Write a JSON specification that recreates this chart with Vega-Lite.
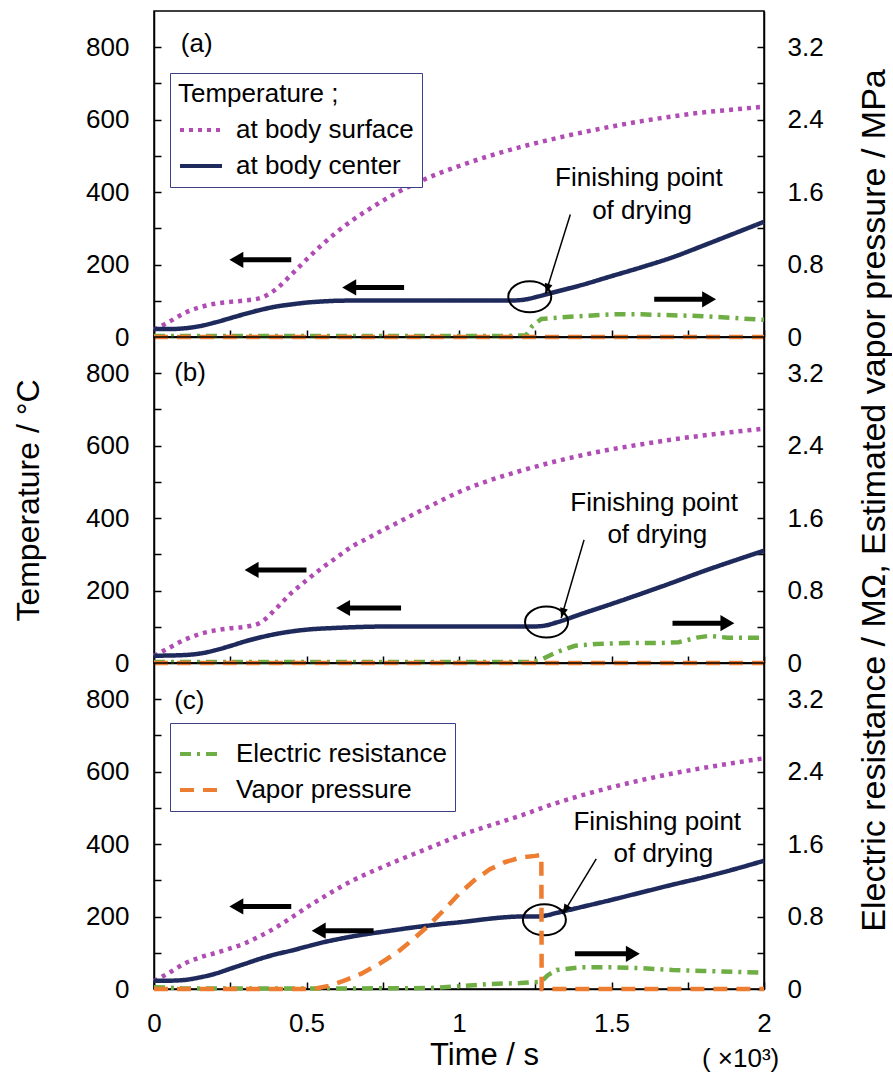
{
  "$schema": "https://vega.github.io/schema/vega-lite/v6.json",
  "padding": {"left": 11, "top": 10, "right": 0, "bottom": 0},
  "config": {
    "font": "Liberation Sans",
    "view": {"stroke": "black", "strokeWidth": 1.5},
    "axis": {"grid": false, "domainColor": "black", "domainWidth": 1.5, "tickColor": "black", "tickWidth": 1.5, "tickSize": -7, "labelFontSize": 26, "labelColor": "black", "labelFlush": false, "titleFontSize": 32, "titleFontWeight": "normal", "titleColor": "black"},
    "legend": {"labelFontSize": 26, "titleFontSize": 26, "titleFontWeight": "normal", "labelColor": "black", "titleColor": "black", "strokeColor": "#3a3f87", "fillColor": "white", "padding": 8, "symbolType": "stroke", "symbolSize": 1764, "symbolStrokeWidth": 4, "labelOffset": 12, "rowPadding": -11, "titlePadding": 0, "labelLimit": 400, "titleLimit": 400}
  },
  "datasets": {
    "temp": [
      {"p":"a","s":"at body surface","t":0,"v":20},{"p":"a","s":"at body surface","t":0.05,"v":42},{"p":"a","s":"at body surface","t":0.1,"v":66},{"p":"a","s":"at body surface","t":0.15,"v":82},{"p":"a","s":"at body surface","t":0.2,"v":92},{"p":"a","s":"at body surface","t":0.25,"v":97},{"p":"a","s":"at body surface","t":0.3,"v":101},{"p":"a","s":"at body surface","t":0.35,"v":108},{"p":"a","s":"at body surface","t":0.4,"v":132},{"p":"a","s":"at body surface","t":0.45,"v":172},{"p":"a","s":"at body surface","t":0.5,"v":214},{"p":"a","s":"at body surface","t":0.55,"v":254},{"p":"a","s":"at body surface","t":0.6,"v":290},{"p":"a","s":"at body surface","t":0.65,"v":322},{"p":"a","s":"at body surface","t":0.7,"v":350},{"p":"a","s":"at body surface","t":0.75,"v":376},{"p":"a","s":"at body surface","t":0.8,"v":400},{"p":"a","s":"at body surface","t":0.85,"v":421},{"p":"a","s":"at body surface","t":0.9,"v":440},{"p":"a","s":"at body surface","t":0.95,"v":457},{"p":"a","s":"at body surface","t":1.0,"v":472},{"p":"a","s":"at body surface","t":1.1,"v":500},{"p":"a","s":"at body surface","t":1.2,"v":524},{"p":"a","s":"at body surface","t":1.3,"v":545},{"p":"a","s":"at body surface","t":1.4,"v":564},{"p":"a","s":"at body surface","t":1.5,"v":581},{"p":"a","s":"at body surface","t":1.6,"v":596},{"p":"a","s":"at body surface","t":1.7,"v":609},{"p":"a","s":"at body surface","t":1.8,"v":620},{"p":"a","s":"at body surface","t":1.9,"v":628},{"p":"a","s":"at body surface","t":2.0,"v":636},
      {"p":"a","s":"at body center","t":0,"v":22},{"p":"a","s":"at body center","t":0.05,"v":22},{"p":"a","s":"at body center","t":0.1,"v":24},{"p":"a","s":"at body center","t":0.15,"v":30},{"p":"a","s":"at body center","t":0.2,"v":40},{"p":"a","s":"at body center","t":0.25,"v":52},{"p":"a","s":"at body center","t":0.3,"v":64},{"p":"a","s":"at body center","t":0.35,"v":75},{"p":"a","s":"at body center","t":0.4,"v":84},{"p":"a","s":"at body center","t":0.45,"v":90},{"p":"a","s":"at body center","t":0.5,"v":95},{"p":"a","s":"at body center","t":0.55,"v":98},{"p":"a","s":"at body center","t":0.6,"v":100},{"p":"a","s":"at body center","t":0.7,"v":101},{"p":"a","s":"at body center","t":0.8,"v":101},{"p":"a","s":"at body center","t":0.9,"v":101},{"p":"a","s":"at body center","t":1.0,"v":101},{"p":"a","s":"at body center","t":1.1,"v":101},{"p":"a","s":"at body center","t":1.18,"v":101},{"p":"a","s":"at body center","t":1.22,"v":104},{"p":"a","s":"at body center","t":1.26,"v":112},{"p":"a","s":"at body center","t":1.3,"v":121},{"p":"a","s":"at body center","t":1.4,"v":143},{"p":"a","s":"at body center","t":1.5,"v":168},{"p":"a","s":"at body center","t":1.6,"v":193},{"p":"a","s":"at body center","t":1.7,"v":220},{"p":"a","s":"at body center","t":1.8,"v":252},{"p":"a","s":"at body center","t":1.9,"v":285},{"p":"a","s":"at body center","t":2.0,"v":318},
      {"p":"b","s":"at body surface","t":0,"v":20},{"p":"b","s":"at body surface","t":0.05,"v":42},{"p":"b","s":"at body surface","t":0.1,"v":64},{"p":"b","s":"at body surface","t":0.15,"v":80},{"p":"b","s":"at body surface","t":0.2,"v":90},{"p":"b","s":"at body surface","t":0.25,"v":96},{"p":"b","s":"at body surface","t":0.3,"v":100},{"p":"b","s":"at body surface","t":0.35,"v":112},{"p":"b","s":"at body surface","t":0.4,"v":150},{"p":"b","s":"at body surface","t":0.45,"v":193},{"p":"b","s":"at body surface","t":0.5,"v":228},{"p":"b","s":"at body surface","t":0.55,"v":262},{"p":"b","s":"at body surface","t":0.6,"v":292},{"p":"b","s":"at body surface","t":0.65,"v":322},{"p":"b","s":"at body surface","t":0.7,"v":344},{"p":"b","s":"at body surface","t":0.75,"v":367},{"p":"b","s":"at body surface","t":0.8,"v":388},{"p":"b","s":"at body surface","t":0.85,"v":410},{"p":"b","s":"at body surface","t":0.9,"v":431},{"p":"b","s":"at body surface","t":0.95,"v":452},{"p":"b","s":"at body surface","t":1.0,"v":472},{"p":"b","s":"at body surface","t":1.1,"v":504},{"p":"b","s":"at body surface","t":1.2,"v":530},{"p":"b","s":"at body surface","t":1.3,"v":553},{"p":"b","s":"at body surface","t":1.4,"v":573},{"p":"b","s":"at body surface","t":1.5,"v":590},{"p":"b","s":"at body surface","t":1.6,"v":604},{"p":"b","s":"at body surface","t":1.7,"v":617},{"p":"b","s":"at body surface","t":1.8,"v":628},{"p":"b","s":"at body surface","t":1.9,"v":638},{"p":"b","s":"at body surface","t":2.0,"v":647},
      {"p":"b","s":"at body center","t":0,"v":20},{"p":"b","s":"at body center","t":0.1,"v":22},{"p":"b","s":"at body center","t":0.15,"v":26},{"p":"b","s":"at body center","t":0.2,"v":35},{"p":"b","s":"at body center","t":0.25,"v":47},{"p":"b","s":"at body center","t":0.3,"v":60},{"p":"b","s":"at body center","t":0.35,"v":71},{"p":"b","s":"at body center","t":0.4,"v":80},{"p":"b","s":"at body center","t":0.45,"v":87},{"p":"b","s":"at body center","t":0.5,"v":92},{"p":"b","s":"at body center","t":0.6,"v":97},{"p":"b","s":"at body center","t":0.7,"v":100},{"p":"b","s":"at body center","t":0.8,"v":101},{"p":"b","s":"at body center","t":0.9,"v":101},{"p":"b","s":"at body center","t":1.0,"v":101},{"p":"b","s":"at body center","t":1.1,"v":101},{"p":"b","s":"at body center","t":1.2,"v":101},{"p":"b","s":"at body center","t":1.25,"v":101},{"p":"b","s":"at body center","t":1.28,"v":103},{"p":"b","s":"at body center","t":1.32,"v":112},{"p":"b","s":"at body center","t":1.4,"v":135},{"p":"b","s":"at body center","t":1.5,"v":163},{"p":"b","s":"at body center","t":1.6,"v":192},{"p":"b","s":"at body center","t":1.7,"v":222},{"p":"b","s":"at body center","t":1.8,"v":253},{"p":"b","s":"at body center","t":1.9,"v":282},{"p":"b","s":"at body center","t":2.0,"v":310},
      {"p":"c","s":"at body surface","t":0,"v":22},{"p":"c","s":"at body surface","t":0.05,"v":45},{"p":"c","s":"at body surface","t":0.1,"v":70},{"p":"c","s":"at body surface","t":0.15,"v":87},{"p":"c","s":"at body surface","t":0.2,"v":99},{"p":"c","s":"at body surface","t":0.25,"v":112},{"p":"c","s":"at body surface","t":0.3,"v":127},{"p":"c","s":"at body surface","t":0.35,"v":147},{"p":"c","s":"at body surface","t":0.4,"v":170},{"p":"c","s":"at body surface","t":0.45,"v":197},{"p":"c","s":"at body surface","t":0.5,"v":225},{"p":"c","s":"at body surface","t":0.55,"v":251},{"p":"c","s":"at body surface","t":0.6,"v":276},{"p":"c","s":"at body surface","t":0.65,"v":299},{"p":"c","s":"at body surface","t":0.7,"v":319},{"p":"c","s":"at body surface","t":0.75,"v":337},{"p":"c","s":"at body surface","t":0.8,"v":355},{"p":"c","s":"at body surface","t":0.85,"v":372},{"p":"c","s":"at body surface","t":0.9,"v":389},{"p":"c","s":"at body surface","t":0.95,"v":406},{"p":"c","s":"at body surface","t":1.0,"v":423},{"p":"c","s":"at body surface","t":1.1,"v":451},{"p":"c","s":"at body surface","t":1.2,"v":478},{"p":"c","s":"at body surface","t":1.3,"v":508},{"p":"c","s":"at body surface","t":1.4,"v":534},{"p":"c","s":"at body surface","t":1.5,"v":557},{"p":"c","s":"at body surface","t":1.6,"v":577},{"p":"c","s":"at body surface","t":1.7,"v":595},{"p":"c","s":"at body surface","t":1.8,"v":610},{"p":"c","s":"at body surface","t":1.9,"v":624},{"p":"c","s":"at body surface","t":2.0,"v":637},
      {"p":"c","s":"at body center","t":0,"v":23},{"p":"c","s":"at body center","t":0.05,"v":23},{"p":"c","s":"at body center","t":0.1,"v":25},{"p":"c","s":"at body center","t":0.15,"v":32},{"p":"c","s":"at body center","t":0.2,"v":42},{"p":"c","s":"at body center","t":0.25,"v":56},{"p":"c","s":"at body center","t":0.3,"v":70},{"p":"c","s":"at body center","t":0.35,"v":84},{"p":"c","s":"at body center","t":0.4,"v":96},{"p":"c","s":"at body center","t":0.45,"v":106},{"p":"c","s":"at body center","t":0.5,"v":117},{"p":"c","s":"at body center","t":0.55,"v":128},{"p":"c","s":"at body center","t":0.6,"v":137},{"p":"c","s":"at body center","t":0.65,"v":145},{"p":"c","s":"at body center","t":0.7,"v":152},{"p":"c","s":"at body center","t":0.75,"v":158},{"p":"c","s":"at body center","t":0.8,"v":164},{"p":"c","s":"at body center","t":0.85,"v":170},{"p":"c","s":"at body center","t":0.9,"v":175},{"p":"c","s":"at body center","t":0.95,"v":180},{"p":"c","s":"at body center","t":1.0,"v":184},{"p":"c","s":"at body center","t":1.05,"v":189},{"p":"c","s":"at body center","t":1.1,"v":194},{"p":"c","s":"at body center","t":1.15,"v":198},{"p":"c","s":"at body center","t":1.2,"v":200},{"p":"c","s":"at body center","t":1.25,"v":200},{"p":"c","s":"at body center","t":1.28,"v":202},{"p":"c","s":"at body center","t":1.32,"v":210},{"p":"c","s":"at body center","t":1.4,"v":226},{"p":"c","s":"at body center","t":1.5,"v":246},{"p":"c","s":"at body center","t":1.6,"v":267},{"p":"c","s":"at body center","t":1.7,"v":288},{"p":"c","s":"at body center","t":1.8,"v":308},{"p":"c","s":"at body center","t":1.9,"v":330},{"p":"c","s":"at body center","t":2.0,"v":354}
    ],
    "mpa": [
      {"p":"a","s":"Electric resistance","t":0,"v":0.01},{"p":"a","s":"Electric resistance","t":0.3,"v":0.01},{"p":"a","s":"Electric resistance","t":0.6,"v":0.01},{"p":"a","s":"Electric resistance","t":0.9,"v":0.01},{"p":"a","s":"Electric resistance","t":1.15,"v":0.01},{"p":"a","s":"Electric resistance","t":1.22,"v":0.02},{"p":"a","s":"Electric resistance","t":1.24,"v":0.12},{"p":"a","s":"Electric resistance","t":1.27,"v":0.2},{"p":"a","s":"Electric resistance","t":1.35,"v":0.22},{"p":"a","s":"Electric resistance","t":1.5,"v":0.25},{"p":"a","s":"Electric resistance","t":1.6,"v":0.25},{"p":"a","s":"Electric resistance","t":1.7,"v":0.24},{"p":"a","s":"Electric resistance","t":1.8,"v":0.23},{"p":"a","s":"Electric resistance","t":1.9,"v":0.21},{"p":"a","s":"Electric resistance","t":2.0,"v":0.19},
      {"p":"a","s":"Vapor pressure","t":0,"v":0},{"p":"a","s":"Vapor pressure","t":2.0,"v":0},
      {"p":"b","s":"Electric resistance","t":0,"v":0.01},{"p":"b","s":"Electric resistance","t":0.6,"v":0.01},{"p":"b","s":"Electric resistance","t":1.24,"v":0.01},{"p":"b","s":"Electric resistance","t":1.27,"v":0.04},{"p":"b","s":"Electric resistance","t":1.32,"v":0.12},{"p":"b","s":"Electric resistance","t":1.38,"v":0.19},{"p":"b","s":"Electric resistance","t":1.45,"v":0.21},{"p":"b","s":"Electric resistance","t":1.55,"v":0.22},{"p":"b","s":"Electric resistance","t":1.65,"v":0.22},{"p":"b","s":"Electric resistance","t":1.72,"v":0.23},{"p":"b","s":"Electric resistance","t":1.78,"v":0.28},{"p":"b","s":"Electric resistance","t":1.82,"v":0.3},{"p":"b","s":"Electric resistance","t":1.88,"v":0.28},{"p":"b","s":"Electric resistance","t":1.95,"v":0.28},{"p":"b","s":"Electric resistance","t":2.0,"v":0.28},
      {"p":"b","s":"Vapor pressure","t":0,"v":0},{"p":"b","s":"Vapor pressure","t":2.0,"v":0},
      {"p":"c","s":"Electric resistance","t":0,"v":0.02},{"p":"c","s":"Electric resistance","t":0.05,"v":0.015},{"p":"c","s":"Electric resistance","t":0.1,"v":0.005},{"p":"c","s":"Electric resistance","t":0.3,"v":0.005},{"p":"c","s":"Electric resistance","t":0.6,"v":0.005},{"p":"c","s":"Electric resistance","t":0.9,"v":0.01},{"p":"c","s":"Electric resistance","t":1.0,"v":0.03},{"p":"c","s":"Electric resistance","t":1.1,"v":0.055},{"p":"c","s":"Electric resistance","t":1.2,"v":0.065},{"p":"c","s":"Electric resistance","t":1.27,"v":0.08},{"p":"c","s":"Electric resistance","t":1.29,"v":0.15},{"p":"c","s":"Electric resistance","t":1.32,"v":0.21},{"p":"c","s":"Electric resistance","t":1.4,"v":0.24},{"p":"c","s":"Electric resistance","t":1.5,"v":0.24},{"p":"c","s":"Electric resistance","t":1.6,"v":0.23},{"p":"c","s":"Electric resistance","t":1.7,"v":0.21},{"p":"c","s":"Electric resistance","t":1.8,"v":0.2},{"p":"c","s":"Electric resistance","t":1.9,"v":0.19},{"p":"c","s":"Electric resistance","t":2.0,"v":0.18},
      {"p":"c","s":"Vapor pressure","t":0,"v":0},{"p":"c","s":"Vapor pressure","t":0.5,"v":0},{"p":"c","s":"Vapor pressure","t":0.53,"v":0.005},{"p":"c","s":"Vapor pressure","t":0.58,"v":0.04},{"p":"c","s":"Vapor pressure","t":0.63,"v":0.1},{"p":"c","s":"Vapor pressure","t":0.68,"v":0.17},{"p":"c","s":"Vapor pressure","t":0.74,"v":0.28},{"p":"c","s":"Vapor pressure","t":0.8,"v":0.41},{"p":"c","s":"Vapor pressure","t":0.85,"v":0.55},{"p":"c","s":"Vapor pressure","t":0.9,"v":0.7},{"p":"c","s":"Vapor pressure","t":0.95,"v":0.87},{"p":"c","s":"Vapor pressure","t":1.0,"v":1.05},{"p":"c","s":"Vapor pressure","t":1.05,"v":1.2},{"p":"c","s":"Vapor pressure","t":1.1,"v":1.32},{"p":"c","s":"Vapor pressure","t":1.15,"v":1.4},{"p":"c","s":"Vapor pressure","t":1.2,"v":1.45},{"p":"c","s":"Vapor pressure","t":1.25,"v":1.47},{"p":"c","s":"Vapor pressure","t":1.27,"v":1.48},{"p":"c","s":"Vapor pressure","t":1.271,"v":0},{"p":"c","s":"Vapor pressure","t":2.0,"v":0}
    ],
    "arrows": [
      {"p":"a","t1":0.27,"t2":0.45,"h":0.27,"v":213,"d":"left"},{"p":"a","t1":0.64,"t2":0.82,"h":0.64,"v":137,"d":"left"},{"p":"a","t1":1.64,"t2":1.82,"h":1.82,"v":104,"d":"right"},
      {"p":"b","t1":0.32,"t2":0.5,"h":0.32,"v":257,"d":"left"},{"p":"b","t1":0.62,"t2":0.81,"h":0.62,"v":152,"d":"left"},{"p":"b","t1":1.7,"t2":1.88,"h":1.88,"v":110,"d":"right"},
      {"p":"c","t1":0.27,"t2":0.45,"h":0.27,"v":228,"d":"left"},{"p":"c","t1":0.54,"t2":0.72,"h":0.54,"v":161,"d":"left"},{"p":"c","t1":1.38,"t2":1.57,"h":1.57,"v":97,"d":"right"}
    ],
    "finish": [
      {"p":"a","t":1.232,"v":111,"t1":1.365,"v1":338,"t2":1.284,"v2":120},
      {"p":"b","t":1.287,"v":113,"t1":1.41,"v1":340,"t2":1.335,"v2":124},
      {"p":"c","t":1.28,"v":191,"t1":1.45,"v1":359,"t2":1.34,"v2":207}
    ],
    "notes": [
      {"p":"a","k":"note","t":1.59,"v":440,"txt":"Finishing point"},{"p":"a","k":"note","t":1.6,"v":349,"txt":"of drying"},
      {"p":"b","k":"note","t":1.64,"v":441,"txt":"Finishing point"},{"p":"b","k":"note","t":1.65,"v":354,"txt":"of drying"},
      {"p":"c","k":"note","t":1.65,"v":460,"txt":"Finishing point"},{"p":"c","k":"note","t":1.67,"v":372,"txt":"of drying"},
      {"p":"a","k":"tag","t":0.088,"v":810,"txt":"(a)"},{"p":"b","k":"tag","t":0.066,"v":800,"txt":"(b)"},{"p":"c","k":"tag","t":0.066,"v":795,"txt":"(c)"},
      {"p":"c","k":"unit","t":2.05,"v":-193,"txt":"( ×10³)"}
    ]
  },
  "spacing": 0,
  "bounds": "flush",
  "resolve": {"scale": {"color": "independent", "strokeDash": "independent"}, "legend": {"color": "independent", "strokeDash": "independent"}},
  "vconcat": [
    {
      "width": 610, "height": 326,
      "resolve": {"scale": {"y": "independent", "color": "independent", "strokeDash": "independent"}, "axis": {"y": "independent"}},
      "layer": [
        {"layer": [
          {"data": {"name": "temp"}, "transform": [{"filter": "datum.p == 'a'"}],
           "mark": {"type": "line", "strokeWidth": 4.5, "interpolate": "monotone", "strokeCap": "butt"},
           "encoding": {
             "x": {"field": "t", "type": "quantitative", "title": null, "scale": {"domain": [0, 2], "nice": false}, "axis": {"values": [0,0.25,0.5,0.75,1,1.25,1.5,1.75,2], "labels": false, "title": null}},
             "y": {"field": "v", "type": "quantitative", "title": null, "scale": {"domain": [0, 900], "nice": false}, "axis": {"values": [0,100,200,300,400,500,600,700,800], "labelExpr": "datum.value % 200 == 0 ? datum.label : ''", "labelPadding": 32, "title": null}},
             "color": {"field": "s", "type": "nominal", "scale": {"domain": ["at body surface", "at body center"], "range": ["#b04cb4", "#1f2a5c"]}, "legend": {"orient": "none", "legendX": 16, "legendY": 62, "direction": "vertical", "title": "Temperature ;"}},
             "strokeDash": {"field": "s", "type": "nominal", "scale": {"domain": ["at body surface", "at body center"], "range": [[4, 5], [1, 0]]}, "legend": {"orient": "none", "legendX": 16, "legendY": 62, "direction": "vertical", "title": "Temperature ;"}}
           }},
          {"data": {"name": "arrows"}, "transform": [{"filter": "datum.p == 'a'"}],
           "mark": {"type": "rule", "strokeWidth": 5, "color": "black"},
           "encoding": {"x": {"field": "t1", "type": "quantitative", "title": null}, "x2": {"field": "t2"}, "y": {"field": "v", "type": "quantitative", "title": null}}},
          {"data": {"name": "arrows"}, "transform": [{"filter": "datum.p == 'a'"}],
           "mark": {"type": "point", "filled": true, "color": "black", "size": 260, "opacity": 1},
           "encoding": {"x": {"field": "h", "type": "quantitative", "title": null}, "y": {"field": "v", "type": "quantitative", "title": null}, "shape": {"field": "d", "type": "nominal", "scale": {"domain": ["left", "right"], "range": ["triangle-left", "triangle-right"]}, "legend": null}}},
          {"data": {"name": "finish"}, "transform": [{"filter": "datum.p == 'a'"}],
           "mark": {"type": "point", "shape": "M-1,0A1,0.72,0,1,1,1,0A1,0.72,0,1,1,-1,0Z", "filled": false, "color": "black", "strokeWidth": 2, "size": 1849, "opacity": 1},
           "encoding": {"x": {"field": "t", "type": "quantitative", "title": null}, "y": {"field": "v", "type": "quantitative", "title": null}}},
          {"data": {"name": "finish"}, "transform": [{"filter": "datum.p == 'a'"}],
           "mark": {"type": "rule", "strokeWidth": 1.5, "color": "black"},
           "encoding": {"x": {"field": "t1", "type": "quantitative", "title": null}, "x2": {"field": "t2"}, "y": {"field": "v1", "type": "quantitative", "title": null}, "y2": {"field": "v2"}}},
          {"data": {"name": "finish"}, "transform": [{"filter": "datum.p == 'a'"}],
           "mark": {"type": "point", "shape": "M-0.4,-1L0,0L0.4,-1Z", "filled": true, "color": "black", "size": 400, "opacity": 1, "angle": 17.6},
           "encoding": {"x": {"field": "t2", "type": "quantitative", "title": null}, "y": {"field": "v2", "type": "quantitative", "title": null}}},
          {"data": {"name": "notes"}, "transform": [{"filter": "datum.p == 'a' && datum.k == 'note'"}],
           "mark": {"type": "text", "fontSize": 26, "align": "center", "baseline": "middle", "color": "black"},
           "encoding": {"x": {"field": "t", "type": "quantitative", "title": null}, "y": {"field": "v", "type": "quantitative", "title": null}, "text": {"field": "txt"}}},
          {"data": {"name": "notes"}, "transform": [{"filter": "datum.p == 'a' && datum.k == 'tag'"}],
           "mark": {"type": "text", "fontSize": 26, "align": "left", "baseline": "middle", "color": "black"},
           "encoding": {"x": {"field": "t", "type": "quantitative", "title": null}, "y": {"field": "v", "type": "quantitative", "title": null}, "text": {"field": "txt"}}}
        ]},
        {"data": {"name": "mpa"}, "transform": [{"filter": "datum.p == 'a'"}],
         "mark": {"type": "line", "strokeWidth": 4.5, "strokeCap": "butt"},
         "encoding": {
           "x": {"field": "t", "type": "quantitative", "title": null, "scale": {"domain": [0, 2], "nice": false}},
           "y": {"field": "v", "type": "quantitative", "scale": {"domain": [0, 3.6], "nice": false}, "axis": {"orient": "right", "values": [0,0.4,0.8,1.2,1.6,2,2.4,2.8,3.2], "labelExpr": "indexof(['0','0.8','1.6','2.4','3.2'], toString(datum.value)) >= 0 ? (datum.value == 0 ? '0' : format(datum.value, '.1f')) : ''", "labelPadding": 30, "title": null}},
           "color": {"field": "s", "type": "nominal", "scale": {"domain": ["Electric resistance", "Vapor pressure"], "range": ["#6fae45", "#ed7d31"]}, "legend": null},
           "strokeDash": {"field": "s", "type": "nominal", "scale": {"domain": ["Electric resistance", "Vapor pressure"], "range": [[11, 6, 3, 6], [14, 9]]}, "legend": null}
         }}
      ]
    },
    {
      "width": 610, "height": 326,
      "resolve": {"scale": {"y": "independent", "color": "independent", "strokeDash": "independent"}, "axis": {"y": "independent"}},
      "layer": [
        {"layer": [
          {"data": {"name": "temp"}, "transform": [{"filter": "datum.p == 'b'"}],
           "mark": {"type": "line", "strokeWidth": 4.5, "interpolate": "monotone", "strokeCap": "butt"},
           "encoding": {
             "x": {"field": "t", "type": "quantitative", "title": null, "scale": {"domain": [0, 2], "nice": false}, "axis": {"values": [0,0.25,0.5,0.75,1,1.25,1.5,1.75,2], "labels": false, "title": null}},
             "y": {"field": "v", "type": "quantitative", "title": "Temperature / °C", "scale": {"domain": [0, 900], "nice": false}, "axis": {"values": [0,100,200,300,400,500,600,700,800], "labelExpr": "datum.value % 200 == 0 ? datum.label : ''", "labelPadding": 32, "title": "Temperature / °C", "titleX": -126, "titleY": 163, "titleAngle": 270, "titleAlign": "center", "titleBaseline": "middle"}},
             "color": {"field": "s", "type": "nominal", "scale": {"domain": ["at body surface", "at body center"], "range": ["#b04cb4", "#1f2a5c"]}, "legend": null},
             "strokeDash": {"field": "s", "type": "nominal", "scale": {"domain": ["at body surface", "at body center"], "range": [[4, 5], [1, 0]]}, "legend": null}
           }},
          {"data": {"name": "arrows"}, "transform": [{"filter": "datum.p == 'b'"}],
           "mark": {"type": "rule", "strokeWidth": 5, "color": "black"},
           "encoding": {"x": {"field": "t1", "type": "quantitative", "title": null}, "x2": {"field": "t2"}, "y": {"field": "v", "type": "quantitative", "title": "Temperature / °C"}}},
          {"data": {"name": "arrows"}, "transform": [{"filter": "datum.p == 'b'"}],
           "mark": {"type": "point", "filled": true, "color": "black", "size": 260, "opacity": 1},
           "encoding": {"x": {"field": "h", "type": "quantitative", "title": null}, "y": {"field": "v", "type": "quantitative", "title": "Temperature / °C"}, "shape": {"field": "d", "type": "nominal", "scale": {"domain": ["left", "right"], "range": ["triangle-left", "triangle-right"]}, "legend": null}}},
          {"data": {"name": "finish"}, "transform": [{"filter": "datum.p == 'b'"}],
           "mark": {"type": "point", "shape": "M-1,0A1,0.72,0,1,1,1,0A1,0.72,0,1,1,-1,0Z", "filled": false, "color": "black", "strokeWidth": 2, "size": 1849, "opacity": 1},
           "encoding": {"x": {"field": "t", "type": "quantitative", "title": null}, "y": {"field": "v", "type": "quantitative", "title": "Temperature / °C"}}},
          {"data": {"name": "finish"}, "transform": [{"filter": "datum.p == 'b'"}],
           "mark": {"type": "rule", "strokeWidth": 1.5, "color": "black"},
           "encoding": {"x": {"field": "t1", "type": "quantitative", "title": null}, "x2": {"field": "t2"}, "y": {"field": "v1", "type": "quantitative", "title": "Temperature / °C"}, "y2": {"field": "v2"}}},
          {"data": {"name": "finish"}, "transform": [{"filter": "datum.p == 'b'"}],
           "mark": {"type": "point", "shape": "M-0.4,-1L0,0L0.4,-1Z", "filled": true, "color": "black", "size": 400, "opacity": 1, "angle": 16.4},
           "encoding": {"x": {"field": "t2", "type": "quantitative", "title": null}, "y": {"field": "v2", "type": "quantitative", "title": "Temperature / °C"}}},
          {"data": {"name": "notes"}, "transform": [{"filter": "datum.p == 'b' && datum.k == 'note'"}],
           "mark": {"type": "text", "fontSize": 26, "align": "center", "baseline": "middle", "color": "black"},
           "encoding": {"x": {"field": "t", "type": "quantitative", "title": null}, "y": {"field": "v", "type": "quantitative", "title": "Temperature / °C"}, "text": {"field": "txt"}}},
          {"data": {"name": "notes"}, "transform": [{"filter": "datum.p == 'b' && datum.k == 'tag'"}],
           "mark": {"type": "text", "fontSize": 26, "align": "left", "baseline": "middle", "color": "black"},
           "encoding": {"x": {"field": "t", "type": "quantitative", "title": null}, "y": {"field": "v", "type": "quantitative", "title": "Temperature / °C"}, "text": {"field": "txt"}}}
        ]},
        {"data": {"name": "mpa"}, "transform": [{"filter": "datum.p == 'b'"}],
         "mark": {"type": "line", "strokeWidth": 4.5, "strokeCap": "butt"},
         "encoding": {
           "x": {"field": "t", "type": "quantitative", "title": null, "scale": {"domain": [0, 2], "nice": false}},
           "y": {"field": "v", "type": "quantitative", "scale": {"domain": [0, 3.6], "nice": false}, "axis": {"orient": "right", "values": [0,0.4,0.8,1.2,1.6,2,2.4,2.8,3.2], "labelExpr": "indexof(['0','0.8','1.6','2.4','3.2'], toString(datum.value)) >= 0 ? (datum.value == 0 ? '0' : format(datum.value, '.1f')) : ''", "labelPadding": 30, "title": "Electric resistance / MΩ, Estimated vapor pressure / MPa", "titleFontSize": 34, "titleX": 110, "titleY": 163, "titleAngle": 270, "titleAlign": "center", "titleBaseline": "middle"}},
           "color": {"field": "s", "type": "nominal", "scale": {"domain": ["Electric resistance", "Vapor pressure"], "range": ["#6fae45", "#ed7d31"]}, "legend": null},
           "strokeDash": {"field": "s", "type": "nominal", "scale": {"domain": ["Electric resistance", "Vapor pressure"], "range": [[11, 6, 3, 6], [14, 9]]}, "legend": null}
         }}
      ]
    },
    {
      "width": 610, "height": 326,
      "resolve": {"scale": {"y": "independent", "color": "independent", "strokeDash": "independent"}, "axis": {"y": "independent"}},
      "layer": [
        {"layer": [
          {"data": {"name": "temp"}, "transform": [{"filter": "datum.p == 'c'"}],
           "mark": {"type": "line", "strokeWidth": 4.5, "interpolate": "monotone", "strokeCap": "butt"},
           "encoding": {
             "x": {"field": "t", "type": "quantitative", "title": "Time / s", "scale": {"domain": [0, 2], "nice": false}, "axis": {"values": [0,0.25,0.5,0.75,1,1.25,1.5,1.75,2], "labelExpr": "datum.value % 0.5 == 0 ? toString(datum.value) : ''", "labelPadding": 28, "title": "Time / s", "titleFontSize": 31, "titleX": 330, "titleY": 66, "titleAlign": "center", "titleBaseline": "middle"}},
             "y": {"field": "v", "type": "quantitative", "title": null, "scale": {"domain": [0, 900], "nice": false}, "axis": {"values": [0,100,200,300,400,500,600,700,800], "labelExpr": "datum.value % 200 == 0 ? datum.label : ''", "labelPadding": 32, "title": null}},
             "color": {"field": "s", "type": "nominal", "scale": {"domain": ["at body surface", "at body center"], "range": ["#b04cb4", "#1f2a5c"]}, "legend": null},
             "strokeDash": {"field": "s", "type": "nominal", "scale": {"domain": ["at body surface", "at body center"], "range": [[4, 5], [1, 0]]}, "legend": null}
           }},
          {"data": {"name": "arrows"}, "transform": [{"filter": "datum.p == 'c'"}],
           "mark": {"type": "rule", "strokeWidth": 5, "color": "black"},
           "encoding": {"x": {"field": "t1", "type": "quantitative", "title": "Time / s"}, "x2": {"field": "t2"}, "y": {"field": "v", "type": "quantitative", "title": null}}},
          {"data": {"name": "arrows"}, "transform": [{"filter": "datum.p == 'c'"}],
           "mark": {"type": "point", "filled": true, "color": "black", "size": 260, "opacity": 1},
           "encoding": {"x": {"field": "h", "type": "quantitative", "title": "Time / s"}, "y": {"field": "v", "type": "quantitative", "title": null}, "shape": {"field": "d", "type": "nominal", "scale": {"domain": ["left", "right"], "range": ["triangle-left", "triangle-right"]}, "legend": null}}},
          {"data": {"name": "finish"}, "transform": [{"filter": "datum.p == 'c'"}],
           "mark": {"type": "point", "shape": "M-1,0A1,0.72,0,1,1,1,0A1,0.72,0,1,1,-1,0Z", "filled": false, "color": "black", "strokeWidth": 2, "size": 1849, "opacity": 1},
           "encoding": {"x": {"field": "t", "type": "quantitative", "title": "Time / s"}, "y": {"field": "v", "type": "quantitative", "title": null}}},
          {"data": {"name": "finish"}, "transform": [{"filter": "datum.p == 'c'"}],
           "mark": {"type": "rule", "strokeWidth": 1.5, "color": "black"},
           "encoding": {"x": {"field": "t1", "type": "quantitative", "title": "Time / s"}, "x2": {"field": "t2"}, "y": {"field": "v1", "type": "quantitative", "title": null}, "y2": {"field": "v2"}}},
          {"data": {"name": "finish"}, "transform": [{"filter": "datum.p == 'c'"}],
           "mark": {"type": "point", "shape": "M-0.4,-1L0,0L0.4,-1Z", "filled": true, "color": "black", "size": 400, "opacity": 1, "angle": 31},
           "encoding": {"x": {"field": "t2", "type": "quantitative", "title": "Time / s"}, "y": {"field": "v2", "type": "quantitative", "title": null}}},
          {"data": {"name": "notes"}, "transform": [{"filter": "datum.p == 'c' && datum.k == 'note'"}],
           "mark": {"type": "text", "fontSize": 26, "align": "center", "baseline": "middle", "color": "black"},
           "encoding": {"x": {"field": "t", "type": "quantitative", "title": "Time / s"}, "y": {"field": "v", "type": "quantitative", "title": null}, "text": {"field": "txt"}}},
          {"data": {"name": "notes"}, "transform": [{"filter": "datum.p == 'c' && datum.k == 'tag'"}],
           "mark": {"type": "text", "fontSize": 26, "align": "left", "baseline": "middle", "color": "black"},
           "encoding": {"x": {"field": "t", "type": "quantitative", "title": "Time / s"}, "y": {"field": "v", "type": "quantitative", "title": null}, "text": {"field": "txt"}}},
          {"data": {"name": "notes"}, "transform": [{"filter": "datum.p == 'c' && datum.k == 'unit'"}],
           "mark": {"type": "text", "fontSize": 26, "align": "right", "baseline": "middle", "color": "black"},
           "encoding": {"x": {"field": "t", "type": "quantitative", "title": "Time / s"}, "y": {"field": "v", "type": "quantitative", "title": null}, "text": {"field": "txt"}}}
        ]},
        {"data": {"name": "mpa"}, "transform": [{"filter": "datum.p == 'c'"}],
         "mark": {"type": "line", "strokeWidth": 4.5, "strokeCap": "butt"},
         "encoding": {
           "x": {"field": "t", "type": "quantitative", "title": "Time / s", "scale": {"domain": [0, 2], "nice": false}},
           "y": {"field": "v", "type": "quantitative", "scale": {"domain": [0, 3.6], "nice": false}, "axis": {"orient": "right", "values": [0,0.4,0.8,1.2,1.6,2,2.4,2.8,3.2], "labelExpr": "indexof(['0','0.8','1.6','2.4','3.2'], toString(datum.value)) >= 0 ? (datum.value == 0 ? '0' : format(datum.value, '.1f')) : ''", "labelPadding": 30, "title": null}},
           "color": {"field": "s", "type": "nominal", "scale": {"domain": ["Electric resistance", "Vapor pressure"], "range": ["#6fae45", "#ed7d31"]}, "legend": {"orient": "none", "legendX": 16, "legendY": 60, "direction": "vertical", "title": null}},
           "strokeDash": {"field": "s", "type": "nominal", "scale": {"domain": ["Electric resistance", "Vapor pressure"], "range": [[11, 6, 3, 6], [14, 9]]}, "legend": {"orient": "none", "legendX": 16, "legendY": 60, "direction": "vertical", "title": null}}
         }}
      ]
    }
  ]
}
